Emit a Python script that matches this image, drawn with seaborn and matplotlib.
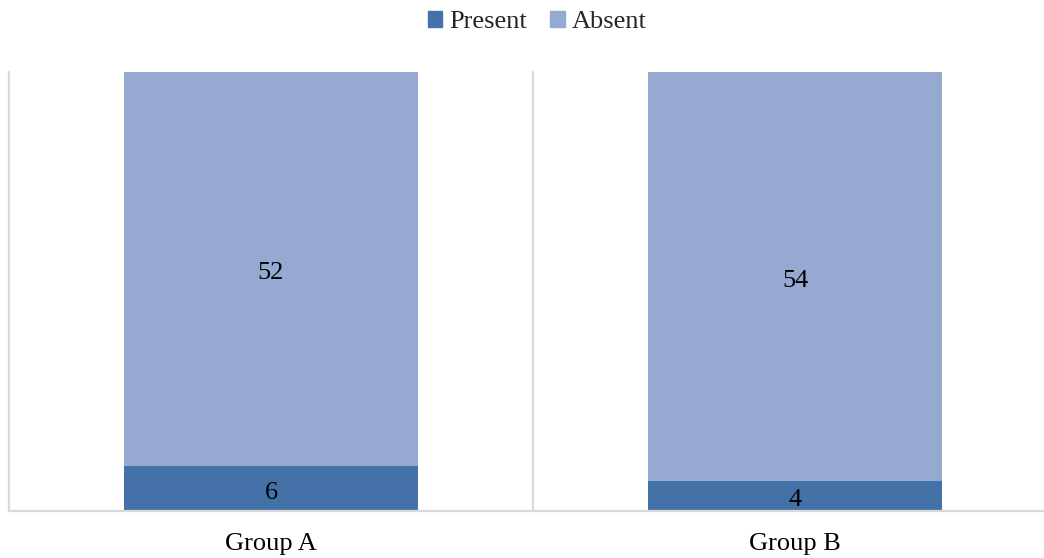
import matplotlib
matplotlib.use("Agg")
import matplotlib.pyplot as plt
import matplotlib.transforms as mtransforms
import seaborn as sns
from matplotlib.patches import Patch

groups = ["Group A", "Group B"]
present = [6, 4]
absent = [52, 54]

c_present = "#4472A8"
c_absent = "#95A9D1"
grid_c = "#D9D9D9"

sns.set_theme(style="white")
plt.rcParams["font.family"] = ["Liberation Serif", "DejaVu Serif"]

FS = 19

fig = plt.figure(figsize=(10.44, 5.58), dpi=100)
W, H = 1044, 558
left, right, top, bottom = 9, 1057, 72, 511
ax = fig.add_axes([left / W, 1 - bottom / H, (right - left) / W, (bottom - top) / H])

sns.barplot(x=groups, y=present, color=c_present, width=0.56, ax=ax,
            saturation=1, linewidth=0, zorder=3)
sns.barplot(x=groups, y=absent, bottom=present, color=c_absent, width=0.56,
            ax=ax, saturation=1, linewidth=0, zorder=3)

total = [p + a for p, a in zip(present, absent)]
ax.set_ylim(0, max(total))
ax.set_xlim(-0.5, 1.5)

for xb in [-0.5, 0.5, 1.5]:
    ax.axvline(xb, color=grid_c, lw=1.6, zorder=1, clip_on=False)

for s in ["top", "right", "left"]:
    ax.spines[s].set_visible(False)
ax.spines["bottom"].set_color(grid_c)
ax.spines["bottom"].set_linewidth(1.6)
ax.spines["bottom"].set_zorder(4)

ax.set_yticks([])
ax.tick_params(axis="x", length=0, pad=16, labelsize=FS, colors="black")
ax.set_xlabel("")
ax.set_ylabel("")

# value labels nudged slightly below the segment centres
shift = mtransforms.offset_copy(ax.transData, fig=fig, x=0, y=-4.5, units="dots")
for i, (p, a) in enumerate(zip(present, absent)):
    ax.text(i, p / 2, str(p), ha="center", va="center", fontsize=FS, color="black",
            zorder=5, transform=shift)
    ax.text(i, p + a / 2, str(a), ha="center", va="center", fontsize=FS, color="black",
            zorder=5, transform=shift)

handles = [Patch(color=c_present, label="Present"), Patch(color=c_absent, label="Absent")]
fig.legend(handles=handles, loc="center", bbox_to_anchor=(537 / W, 1 - 22 / H), ncol=2,
           frameon=False, fontsize=FS, handlelength=0.55, handleheight=0.55,
           handletextpad=0.25, columnspacing=0.9, borderpad=0)

fig.savefig("out.png", dpi=100)
